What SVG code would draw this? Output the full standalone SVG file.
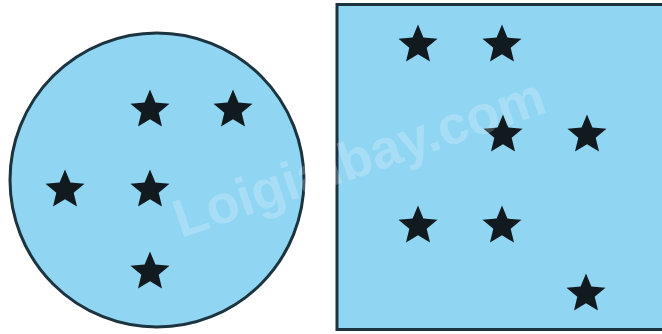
<svg xmlns="http://www.w3.org/2000/svg" xmlns:xlink="http://www.w3.org/1999/xlink" width="662" height="334" viewBox="0 0 662 334">
  <style>
    .shape { fill: #90d5f2; stroke: #1c3340; stroke-width: 3; }
    .star { fill: #111a1f; }
    .wm { font-family: "Liberation Sans", Arial, sans-serif; font-size: 54px; font-weight: bold; fill: #ffffff; fill-opacity: 0.22; }
  </style>
  <defs>
    <path id="star" class="star" d="M0,-20.5 L5.4,-7.4 L19.5,-6.3 L8.7,2.8 L12,16.6 L0,9.2 L-12,16.6 L-8.7,2.8 L-19.5,-6.3 L-5.4,-7.4 Z"/>
  </defs>
  <rect x="0" y="0" width="662" height="334" fill="#ffffff"/>
  <g id="circle">
    <circle class="shape" cx="157" cy="180" r="147"/>
    <use xlink:href="#star" x="150" y="110"/>
    <use xlink:href="#star" x="233" y="110"/>
    <use xlink:href="#star" x="65" y="190"/>
    <use xlink:href="#star" x="150" y="190"/>
    <use xlink:href="#star" x="150" y="272"/>
  </g>
  <g id="square">
    <rect class="shape" x="337" y="4.5" width="340" height="325"/>
    <use xlink:href="#star" x="418" y="45"/>
    <use xlink:href="#star" x="502" y="45"/>
    <use xlink:href="#star" x="503" y="135"/>
    <use xlink:href="#star" x="587" y="135"/>
    <use xlink:href="#star" x="418" y="226"/>
    <use xlink:href="#star" x="502" y="226"/>
    <use xlink:href="#star" x="586" y="294"/>
  </g>
  <text class="wm" x="365" y="175" text-anchor="middle" transform="rotate(-19 365 175)">Loigiaibay.com</text>
</svg>
